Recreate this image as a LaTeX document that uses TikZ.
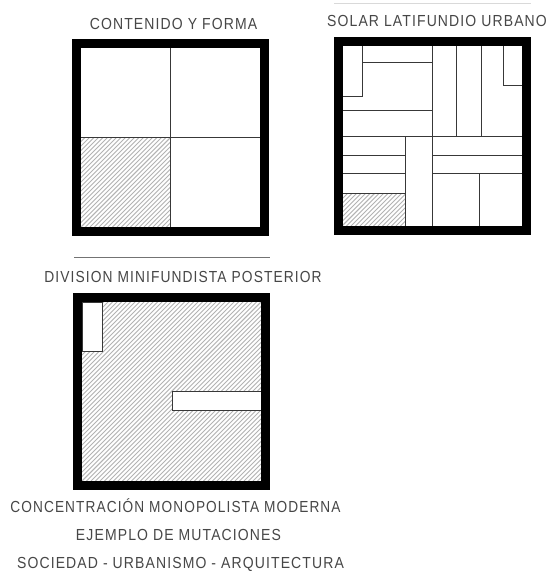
\documentclass[tikz,border=0pt]{standalone}
\usepackage{fontspec}
\setmainfont[LetterSpace=7,FakeStretch=0.875]{Liberation Sans}
\tikzset{
  x=1pt,y=-1pt,
  frame/.style={draw=black,line width=9pt,miter limit=10},
  wall/.style={draw=black!78,line width=1pt},
  hatchline/.style={draw=black!30,line width=0.8pt},
  caption/.style={text=black!72,inner sep=0pt,font=\fontsize{16}{18}\selectfont,anchor=base},
  rule/.style={draw=black!55,line width=0.7pt}
}
\newcommand{\hatchrect}[4]{%
  \begin{scope}
    \clip (#1,#2) rectangle (#3,#4);
    \foreach \k in {0,4.5,...,423}{
      \draw[hatchline] (#1+\k,#4) -- ++(300,-300);
      \draw[hatchline] (#1-\k,#4) -- ++(300,-300);
    }
  \end{scope}}
\begin{document}
\begin{tikzpicture}
\useasboundingbox (0,0) rectangle (548,571);
\fill[white] (0,0) rectangle (548,571);

% Box 1
\hatchrect{81}{137}{170}{227}
\draw[wall] (170,48) -- (170,227) (81,137) -- (260,137);
\draw[frame] (76.5,43.5) rectangle (264.5,231.5);

% Box 2
\hatchrect{342}{193}{405}{226}
\draw[wall] (362,46) -- (362,96) -- (342,96);
\draw[wall] (362,62) -- (432,62);
\draw[wall] (432,46) -- (432,226);
\draw[wall] (342,110) -- (432,110);
\draw[wall] (342,136) -- (522,136);
\draw[wall] (456,46) -- (456,136);
\draw[wall] (481,46) -- (481,136);
\draw[wall] (503,46) -- (503,85) -- (522,85);
\draw[wall] (405,136) -- (405,226);
\draw[wall] (342,155) -- (405,155);
\draw[wall] (342,173) -- (405,173);
\draw[wall] (342,193) -- (405,193);
\draw[wall] (432,155) -- (522,155);
\draw[wall] (432,173) -- (522,173);
\draw[wall] (479,173) -- (479,226);
\draw[frame] (338,41.5) rectangle (526.5,230);

% Box 3
\hatchrect{82}{302}{261}{481}
\draw[wall,fill=white] (82,302) rectangle (102,351);
\fill[white] (172,391) rectangle (261,410);
\draw[wall] (261,391) -- (172,391) -- (172,410) -- (261,410);
\draw[frame] (77.5,297.5) rectangle (265.5,485);

% Rules
\coordinate (r1a) at (334,3); \coordinate (r1b) at (531,3);
\coordinate (r2a) at (74,257); \coordinate (r2b) at (270,257);
\draw[rule,draw=black!15] (r1a) -- (r1b);
\draw[rule] (r2a) -- (r2b);

% Captions
\node[caption] (t1) at (173.5,29) {CONTENIDO Y FORMA};
\node[caption] (t2) at (437,26) {SOLAR LATIFUNDIO URBANO};
\node[caption] (t3) at (183,282) {\scalebox{.985}[1]{DIVISION MINIFUNDISTA POSTERIOR}};
\node[caption] (t4) at (175.5,512) {\scalebox{.976}[1]{CONCENTRACIÓN MONOPOLISTA MODERNA}};
\node[caption] (t5) at (178.5,540) {EJEMPLO DE MUTACIONES};
\node[caption] (t6) at (180.5,568.5) {SOCIEDAD - URBANISMO - ARQUITECTURA};
\end{tikzpicture}
\end{document}
